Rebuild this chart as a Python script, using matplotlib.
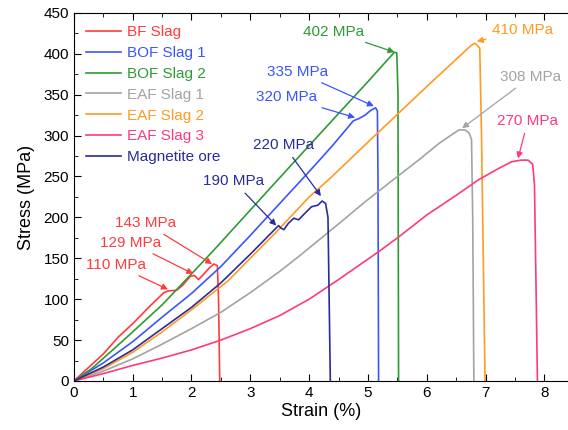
import matplotlib
matplotlib.use('Agg')
import matplotlib.pyplot as plt
from matplotlib.ticker import MultipleLocator

plt.rcParams['font.family'] = ['Liberation Sans', 'DejaVu Sans']

# strain (%) / stress (MPa)
bf_x = [0, 0.5, 0.76, 1.0, 1.3, 1.53, 1.6, 1.75, 1.85, 1.98, 2.05, 2.12, 2.2, 2.3, 2.38, 2.44, 2.46, 2.48]
bf_y = [0, 33, 54, 70, 92, 108, 110, 111, 117, 128, 129, 124, 130, 138, 143, 141, 100, 0]

bof1_x = [0, 0.5, 1.0, 1.5, 2.0, 2.5, 3.0, 3.5, 4.0, 4.4, 4.75, 4.85, 4.95, 5.05, 5.13, 5.16, 5.17, 5.18]
bof1_y = [0, 22, 48, 78, 107, 140, 178, 217, 256, 288, 318, 321, 325, 331, 334, 330, 250, 0]

bof2_x = [0, 0.3, 0.6, 1.0, 1.5, 1.87, 2.38, 3.0, 3.62, 4.5, 5.0, 5.3, 5.45, 5.49, 5.51, 5.52]
bof2_y = [0, 15, 34, 60, 93, 121, 160, 209, 258, 327, 366, 390, 402, 401, 350, 0]

eaf1_x = [0, 0.5, 1.0, 1.5, 2.0, 2.5, 3.0, 3.5, 3.82, 4.5, 4.95, 5.5, 5.86, 6.2, 6.4, 6.55, 6.65, 6.72, 6.76, 6.78, 6.8]
eaf1_y = [0, 12, 27, 45, 64, 84, 108, 134, 152, 192, 219, 250, 270, 290, 300, 307, 307, 303, 295, 200, 0]

eaf2_x = [0, 0.5, 1.0, 1.5, 2.0, 2.63, 3.0, 3.48, 4.0, 4.33, 5.0, 5.5, 6.0, 6.48, 6.75, 6.82, 6.86, 6.9, 6.93, 6.99]
eaf2_y = [0, 15, 35, 60, 87, 123, 150, 185, 225, 246, 292, 326, 360, 392, 410, 413, 410, 407, 300, 0]

eaf3_x = [0, 0.5, 1.0, 1.5, 2.0, 2.5, 3.0, 3.5, 4.0, 4.5, 5.18, 5.52, 6.0, 6.5, 6.88, 7.2, 7.44, 7.6, 7.72, 7.8, 7.83, 7.86, 7.88]
eaf3_y = [0, 9, 19, 28, 38, 50, 64, 80, 100, 124, 158, 176, 203, 227, 246, 259, 268, 270, 270, 265, 240, 100, 0]

mag_x = [0, 0.5, 1.0, 1.5, 2.0, 2.5, 3.0, 3.48, 3.52, 3.57, 3.65, 3.74, 3.82, 3.9, 4.04, 4.15, 4.22, 4.28, 4.32, 4.34, 4.36]
mag_y = [0, 17, 38, 64, 90, 120, 155, 190, 187, 185, 193, 199, 197, 203, 213, 215, 220, 217, 200, 100, 0]

series = [
    ('BF Slag', bf_x, bf_y, '#ff3b3b'),
    ('BOF Slag 1', bof1_x, bof1_y, '#3a55ff'),
    ('BOF Slag 2', bof2_x, bof2_y, '#2f9a35'),
    ('EAF Slag 1', eaf1_x, eaf1_y, '#a3a3a3'),
    ('EAF Slag 2', eaf2_x, eaf2_y, '#ff9a22'),
    ('EAF Slag 3', eaf3_x, eaf3_y, '#ff3a7a'),
    ('Magnetite ore', mag_x, mag_y, '#2b2b9a'),
]

# label text, text position, arrow tip, colour index
notes = [
    ('402 MPa', (3.9, 427), (5.45, 402), 2),
    ('410 MPa', (7.1, 429), (6.85, 415), 4),
    ('308 MPa', (7.25, 372), (6.6, 309), 3),
    ('335 MPa', (3.28, 378), (5.1, 336), 1),
    ('320 MPa', (3.1, 347), (4.78, 322), 1),
    ('270 MPa', (7.2, 318), (7.55, 272), 5),
    ('220 MPa', (3.05, 288), (4.2, 226), 6),
    ('190 MPa', (2.2, 244), (3.44, 190), 6),
    ('143 MPa', (0.7, 193), (2.35, 143), 0),
    ('129 MPa', (0.45, 169), (2.03, 131), 0),
    ('110 MPa', (0.2, 142), (1.6, 112), 0),
]

fig = plt.figure(figsize=(5.68, 4.30), dpi=100)
# the source figure is cropped on the right, so the axes run to the edge
ax = fig.add_axes([0.130, 0.114, 0.870, 0.856])

for name, x, y, c in series:
    ax.plot(x, y, color=c, lw=1.2, label=name)

for txt, (tx, ty), (px, py), ci in notes:
    c = series[ci][3]
    ax.annotate(txt, xy=(px, py), xytext=(tx, ty), color=c, fontsize=11,
                va='center', ha='left', annotation_clip=False,
                arrowprops=dict(arrowstyle='-|>', color=c, lw=0.9,
                                mutation_scale=9, shrinkA=2, shrinkB=0))

leg = ax.legend(loc='upper left', bbox_to_anchor=(0.0, 1.0), frameon=False,
                fontsize=11, handlelength=2.3, handletextpad=0.4,
                labelspacing=0.45, borderaxespad=0.4, labelcolor='linecolor')

ax.set_xlim(0, 8.4)
ax.set_ylim(0, 450)
ax.spines['right'].set_visible(False)
ax.xaxis.set_major_locator(MultipleLocator(1))
ax.xaxis.set_minor_locator(MultipleLocator(0.5))
ax.yaxis.set_major_locator(MultipleLocator(50))
ax.yaxis.set_minor_locator(MultipleLocator(25))
ax.tick_params(which='both', direction='in', top=True, right=False, labelsize=11)
ax.tick_params(which='major', length=5)
ax.tick_params(which='minor', length=3)
ax.set_xlabel('Strain (%)', fontsize=13, labelpad=2)
ax.set_ylabel('Stress (MPa)', fontsize=13, labelpad=6)

fig.savefig('out.png', dpi=100)
